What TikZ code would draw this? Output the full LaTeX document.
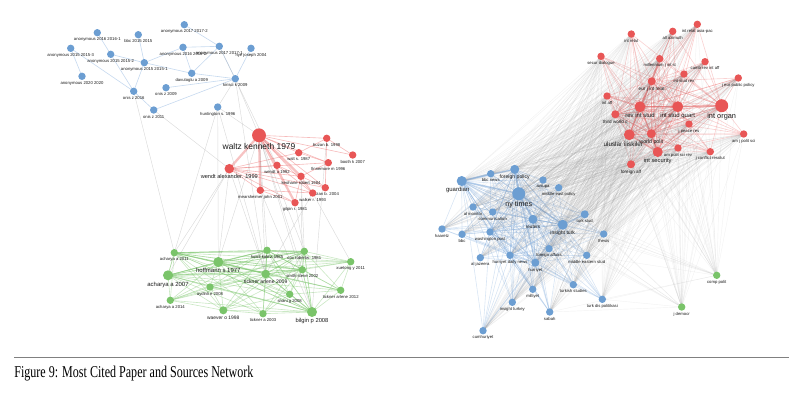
\documentclass[tikz,border=0pt]{standalone}
\usepackage{fontspec}
\setmainfont{Liberation Serif}
\setsansfont{Liberation Sans}
\usepackage{graphicx}
\usepackage{tikz}
\usetikzlibrary{backgrounds}
\definecolor{nodeblue}{RGB}{108,158,210}
\definecolor{nodered}{RGB}{232,86,86}
\definecolor{nodegreen}{RGB}{122,196,106}
\definecolor{edgeblue}{RGB}{130,172,220}
\definecolor{edgered}{RGB}{236,105,105}
\definecolor{edgegreen}{RGB}{125,198,110}
\definecolor{edgegray}{RGB}{150,150,150}
\begin{document}
\begin{tikzpicture}[
  x=0.02cm, y=-0.02cm,
  pap/.style={circle, inner sep=0pt, fill=#1, minimum size=4.2pt},
  lbl/.style={font=\sffamily\fontsize{#1}{#1}\selectfont, inner sep=.2pt, text=black!90},
  lbl/.default=2.4,
  label distance=.2pt,
  link/.style={line width=.35pt, draw=#1, draw opacity=.45},
  haze/.style={line width=.25pt, draw=edgegray, draw opacity=.12},
]
  \useasboundingbox (0,0) rectangle (803,392);

  % Papers: blue cluster
  \node[pap=nodeblue, label={[lbl]below:anonymous 2017 2017-2}] (a172) at (184.3,24.7) {};
  \node[pap=nodeblue, label={[lbl]below:anonymous 2016 2016-1}] (a161) at (97.3,32.7) {};
  \node[pap=nodeblue, label={[lbl]below:bbc 2015 2015}] (bbc15) at (138.3,34.7) {};
  \node[pap=nodeblue, label={[lbl]below:anonymous 2015 2015-3}] (a153) at (70.7,48.3) {};
  \node[pap=nodeblue, label={[lbl]below:anonymous 2015 2015-2}] (a152) at (110.7,54.3) {};
  \node[pap=nodeblue, label={[lbl]below:anonymous 2016 2016-2}] (a162) at (183,47.3) {};
  \node[pap=nodeblue, label={[lbl]below:anonymous 2017 2017-1}] (a171) at (219.3,46.3) {};
  \node[pap=nodeblue, label={[lbl]below:nye joseph 2004}] (nye) at (251,48.3) {};
  \node[pap=nodeblue, label={[lbl]below:anonymous 2015 2015-1}] (a151) at (144.3,62.7) {};
  \node[pap=nodeblue, label={[lbl]below:anonymous 2020 2020}] (a20) at (82,76.3) {};
  \node[pap=nodeblue, label={[lbl]below:davutoglu a 2009}] (davut) at (191.7,73.3) {};
  \node[pap=nodeblue, label={[lbl]below:kirisci k 2009}] (kirisci) at (235.3,78.7) {};
  \node[pap=nodeblue, label={[lbl]below:onis z 2009}] (onis09) at (166,87.7) {};
  \node[pap=nodeblue, label={[lbl]below:onis z 2016}] (onis16) at (133.7,91.3) {};
  \node[pap=nodeblue, label={[lbl]below:huntington s. 1996}] (hunt) at (217.7,107) {};
  \node[pap=nodeblue, label={[lbl]below:onis z 2011}] (onis11) at (153.7,110) {};

  % Papers: red cluster
  \node[pap=nodered, minimum size=7.9pt, label={[lbl=4.8]below:waltz kenneth 1979}] (waltz) at (259,135.3) {};
  \node[pap=nodered, label={[lbl]below:buzan b. 1998}] (buzan98) at (326.7,138.3) {};
  \node[pap=nodered, label={[lbl]below:walt s. 1987}] (walt) at (298.7,152.7) {};
  \node[pap=nodered, label={[lbl]below:booth k 2007}] (booth) at (352.7,155) {};
  \node[pap=nodered, label={[lbl]below:finnemore m 1996}] (finn) at (328.3,162.7) {};
  \node[pap=nodered, label={[lbl]below:wendt a 1992}] (wendt92) at (277,165.3) {};
  \node[pap=nodered, minimum size=5.4pt, label={[lbl=3.2]below:wendt alexander. 1999}] (wendt99) at (229.3,168.7) {};
  \node[pap=nodered, label={[lbl]below:keohane robert 1984}] (keoh) at (301,176.3) {};
  \node[pap=nodered, label={[lbl]below:mearsheimer john 2001}] (mears) at (260.3,190.3) {};
  \node[pap=nodered, label={[lbl]below:buzan b. 2004}] (buzan04) at (325.3,187.7) {};
  \node[pap=nodered, label={[lbl]below:walker r. 1993}] (walker) at (312.7,193) {};
  \node[pap=nodered, label={[lbl]below:gilpin r. 1981}] (gilpin) at (295,202.7) {};

  % Papers: green cluster
  \node[pap=nodegreen, label={[lbl]below:acharya a 2011}] (ach11) at (174.3,252.7) {};
  \node[pap=nodegreen, minimum size=5.7pt, label={[lbl=3.4]below:hoffmann s 1977}] (hoff) at (218.3,262) {};
  \node[pap=nodegreen, minimum size=5.7pt, label={[lbl=3.4]below:acharya a 2007}] (ach07) at (168,275.3) {};
  \node[pap=nodegreen, label={[lbl]below:holsti kalevi 1985}] (holsti) at (267,250.3) {};
  \node[pap=nodegreen, label={[lbl]below:cox robertw. 1981}] (cox) at (304.3,251.3) {};
  \node[pap=nodegreen, minimum size=4.9pt, label={[lbl=2.9]below:tickner arlene 2009}] (tick09) at (265.7,274) {};
  \node[pap=nodegreen, label={[lbl]below:smith steve 2002}] (smith) at (302.3,269.7) {};
  \node[pap=nodegreen, minimum size=4.6pt, label={[lbl=2.8]below:waever o 1998}] (waever) at (223.3,310.3) {};
  \node[pap=nodegreen, label={[lbl]below:aydinli e 2008}] (aydinli) at (210,287) {};
  \node[pap=nodegreen, label={[lbl]below:acharya a 2014}] (ach14) at (170.3,300.3) {};
  \node[pap=nodegreen, label={[lbl]below:tickner a 2003}] (tick03) at (263,313.7) {};
  \node[pap=nodegreen, minimum size=5.7pt, label={[lbl=3.3]below:bilgin p 2008}] (bilgin) at (312,312) {};
  \node[pap=nodegreen, label={[lbl]below:shani g 2008}] (shani) at (289.7,294.3) {};
  \node[pap=nodegreen, label={[lbl]below:tickner arlene 2012}] (tick12) at (340.7,290.3) {};
  \node[pap=nodegreen, label={[lbl]below:xuetong y 2011}] (xue) at (350.7,261.7) {};

  % Sources: red cluster
  \node[pap=nodered, label={[lbl]below:int relat asia-pac}] (asiapac) at (697.3,24.3) {};
  \node[pap=nodered, label={[lbl]below:int relat}] (intrelat) at (631.3,34) {};
  \node[pap=nodered, label={[lbl]below:all azimuth}] (azimuth) at (672.7,31.3) {};
  \node[pap=nodered, label={[lbl]below:secur dialogue}] (secur) at (601,56.3) {};
  \node[pap=nodered, label={[lbl]below:millennium j int st}] (millen) at (659.7,58.7) {};
  \node[pap=nodered, label={[lbl]below:camb rev int aff}] (camb) at (705,61.7) {};
  \node[pap=nodered, label={[lbl]below:int stud rev}] (isr) at (684,74) {};
  \node[pap=nodered, minimum size=4.6pt, label={[lbl=2.7]below:eur j int relat}] (eurj) at (651.7,81.3) {};
  \node[pap=nodered, label={[lbl]below:j eur public policy}] (jeupp) at (738.3,78) {};
  \node[pap=nodered, label={[lbl]below:int aff}] (intaff) at (607,96) {};
  \node[pap=nodered, minimum size=4.6pt, label={[lbl=2.6]below:third world q}] (twq) at (615.3,114.3) {};
  \node[pap=nodered, minimum size=6.2pt, label={[lbl=3.4]below:rev int stud}] (revint) at (640,106.7) {};
  \node[pap=nodered, minimum size=6.2pt, label={[lbl=3.4]below:int stud quart}] (isq) at (677.7,106.7) {};
  \node[pap=nodered, minimum size=7.4pt, label={[lbl=4.2]below:int organ}] (intorgan) at (721.7,105.7) {};
  \node[pap=nodered, label={[lbl]below:j peace res}] (jpr) at (689,124) {};
  \node[pap=nodered, label={[lbl]below:am j polit sci}] (ajps) at (743.7,134) {};
  \node[pap=nodered, minimum size=6.2pt, label={[lbl=3.6, xshift=-1.2mm]below:uluslar iliskiler}] (uluslar) at (629.3,134.7) {};
  \node[pap=nodered, minimum size=5.1pt, label={[lbl=3]below:world polit}] (wpolit) at (651.3,133.7) {};
  \node[pap=nodered, minimum size=5.7pt, label={[lbl=3.3]below:int security}] (intsec) at (657.7,152) {};
  \node[pap=nodered, label={[lbl]below:am polit sci rev}] (apsr) at (678,148) {};
  \node[pap=nodered, label={[lbl]below:j conflict resolut}] (jcr) at (710.3,151.7) {};
  \node[pap=nodered, minimum size=4.6pt, label={[lbl=2.6]below:foreign aff}] (foraff) at (631,164.3) {};

  % Sources: blue cluster
  \node[pap=nodeblue, minimum size=5.7pt, label={[lbl=3.4, xshift=-.8mm]below:guardian}] (guardian) at (461.7,181) {};
  \node[pap=nodeblue, label={[lbl]below:bbc news}] (bbcnews) at (490.7,173.7) {};
  \node[pap=nodeblue, minimum size=5.1pt, label={[lbl=2.9]below:foreign policy}] (fpol) at (514.7,169.3) {};
  \node[pap=nodeblue, minimum size=7.4pt, label={[lbl=4.1]below:ny times}] (nyt) at (518.7,193.7) {};
  \node[pap=nodeblue, label={[lbl]below:avrupa}] (avrupa) at (543,180) {};
  \node[pap=nodeblue, label={[lbl]below:middle east policy}] (mep) at (558.7,187.7) {};
  \node[pap=nodeblue, label={[lbl]below:al monitor}] (almon) at (473,207) {};
  \node[pap=nodeblue, label={[lbl]below:communication}] (comm) at (492.7,212) {};
  \node[pap=nodeblue, minimum size=5.1pt, label={[lbl=2.6]below:reuters}] (reuters) at (533,219.3) {};
  \node[pap=nodeblue, minimum size=5.7pt, label={[lbl=2.9]below:insight turk}] (insturk) at (562.7,224.7) {};
  \node[pap=nodeblue, minimum size=4.6pt, label={[lbl]below:turk stud}] (turkstud) at (584.7,214.3) {};
  \node[pap=nodeblue, label={[lbl]below:haaretz}] (haaretz) at (442,229) {};
  \node[pap=nodeblue, label={[lbl]below:bbc}] (bbc) at (462,234.3) {};
  \node[pap=nodeblue, label={[lbl]below:washington post}] (wapo) at (490,232) {};
  \node[pap=nodeblue, label={[lbl]below:thesis}] (thesis) at (603.7,234) {};
  \node[pap=nodeblue, label={[lbl]below:al jazeera}] (aljaz) at (480.3,257.7) {};
  \node[pap=nodeblue, label={[lbl]below:hurriyet daily news}] (hdn) at (510,255.3) {};
  \node[pap=nodeblue, label={[lbl]below:foreign affairs}] (foraffs) at (549,248.7) {};
  \node[pap=nodeblue, minimum size=4.6pt, label={[lbl]below:hurriyet}] (hurriyet) at (535.3,262.7) {};
  \node[pap=nodeblue, label={[lbl]below:middle eastern stud}] (mes) at (586.7,255.3) {};
  \node[pap=nodeblue, label={[lbl]below:milliyet}] (milliyet) at (532.7,289.3) {};
  \node[pap=nodeblue, label={[lbl]below:turkish studies}] (turkstudies) at (573.3,284.7) {};
  \node[pap=nodeblue, label={[lbl]below:turk dis politikasi}] (tdp) at (602.3,299.3) {};
  \node[pap=nodeblue, label={[lbl]below:insight turkey}] (insturkey) at (512.3,302.3) {};
  \node[pap=nodeblue, label={[lbl]below:sabah}] (sabah) at (549.7,312) {};
  \node[pap=nodeblue, label={[lbl]below:cumhuriyet}] (cumh) at (483,330.7) {};

  % Sources: green cluster
  \node[pap=nodegreen, label={[lbl]below:comp polit}] (comppolit) at (716.7,275.3) {};
  \node[pap=nodegreen, label={[lbl]below:j democr}] (jdemocr) at (681.7,307) {};

  \begin{scope}[on background layer]
    % paper links
    \foreach \a/\b in {a172/a171, a162/a171, a162/a151, a162/davut, a171/davut, a171/kirisci,
                       nye/kirisci, a152/a151, a161/a152, bbc15/a151, a153/a20, a153/onis16,
                       a152/onis16, a151/onis16, a151/davut, davut/kirisci, onis09/kirisci,
                       onis11/kirisci, onis16/onis11}
      \draw[link=edgeblue] (\a.center) -- (\b.center);

    \foreach \b in {wendt99, keoh, mears, gilpin}
      \draw[link=edgered, line width=1.3pt, draw opacity=.4] (waltz.center) -- (\b.center);
    \foreach \a/\b in {waltz/buzan98, waltz/walt, waltz/finn, waltz/wendt92, waltz/buzan04,
                       waltz/walker, waltz/booth, wendt99/keoh, wendt99/wendt92, wendt99/finn,
                       wendt99/buzan04, wendt99/walker, wendt99/mears, wendt99/gilpin,
                       wendt99/walt, buzan98/walt, buzan98/booth, walt/finn, keoh/buzan04,
                       keoh/walker, keoh/gilpin, mears/walker, mears/gilpin, wendt92/keoh,
                       wendt92/walker, finn/keoh, buzan98/buzan04}
      \draw[link=edgered] (\a.center) -- (\b.center);

    \foreach \a in {hoff, ach07, tick09, bilgin, ach11, smith, holsti, cox}
      \foreach \b in {ach11, hoff, ach07, holsti, cox, tick09, smith, waever, aydinli,
                      ach14, tick03, bilgin, shani, tick12, xue}
        \draw[link=edgegreen, draw opacity=.4] (\a.center) -- (\b.center);
    \foreach \a/\b in {waever/aydinli, waever/ach14, waever/tick03, waever/shani,
                       aydinli/ach14, shani/tick12, tick12/xue, tick03/shani}
      \draw[link=edgegreen, draw opacity=.4] (\a.center) -- (\b.center);

    \foreach \a/\b in {hunt/waltz, hunt/hoff, hunt/ach11, hunt/tick09, onis11/wendt99,
                       kirisci/waltz, kirisci/tick09, a171/wendt92, waltz/holsti, waltz/cox,
                       waltz/tick09, waltz/hoff, waltz/bilgin, waltz/smith, wendt99/ach11,
                       wendt99/hoff, wendt99/tick09, wendt99/ach07, mears/bilgin, keoh/cox,
                       keoh/smith, walker/tick09, gilpin/cox, walker/xue, buzan98/bilgin,
                       onis16/ach11, kirisci/hunt}
      \draw[haze, draw opacity=.35] (\a.center) -- (\b.center);

    % source links
    \foreach \a in {intorgan, revint, isq, uluslar, intsec, wpolit, eurj, twq}
      \foreach \b in {asiapac, intrelat, azimuth, secur, millen, camb, isr, eurj, jeupp,
                      intaff, twq, revint, isq, intorgan, jpr, ajps, uluslar, wpolit,
                      intsec, apsr, jcr, foraff}
        \draw[link=edgered, draw opacity=.3] (\a.center) -- (\b.center);
    \foreach \a/\b in {revint/eurj, revint/isq, isq/intorgan, revint/uluslar, uluslar/intsec,
                       wpolit/intsec, revint/intsec, eurj/millen, isq/wpolit, revint/intaff}
      \draw[link=edgered, line width=1pt, draw opacity=.35] (\a.center) -- (\b.center);

    \foreach \a in {nyt, guardian, fpol, reuters, insturk, hdn, wapo, hurriyet}
      \foreach \b in {guardian, bbcnews, fpol, nyt, avrupa, mep, almon, comm, reuters,
                      insturk, turkstud, haaretz, bbc, wapo, thesis, aljaz, hdn, foraffs,
                      hurriyet, mes, milliyet, turkstudies, tdp, insturkey, sabah, cumh}
        \draw[link=edgeblue, draw opacity=.3] (\a.center) -- (\b.center);
    \foreach \a/\b in {guardian/nyt, nyt/fpol, nyt/reuters, nyt/insturk, guardian/bbcnews,
                       insturk/turkstud, guardian/fpol}
      \draw[link=edgeblue, line width=1pt, draw opacity=.4] (\a.center) -- (\b.center);

    \foreach \a in {asiapac, intrelat, azimuth, secur, millen, camb, isr, eurj, jeupp,
                    intaff, twq, revint, isq, intorgan, jpr, ajps, uluslar, wpolit,
                    intsec, apsr, jcr, foraff}
      \foreach \b in {guardian, bbcnews, fpol, nyt, avrupa, mep, almon, comm, reuters,
                      insturk, turkstud, haaretz, bbc, wapo, thesis, aljaz, hdn, foraffs,
                      hurriyet, mes, milliyet, turkstudies, tdp, insturkey, sabah, cumh,
                      comppolit, jdemocr}
        \draw[haze] (\a.center) -- (\b.center);
    \foreach \a in {nyt, guardian, insturk, reuters, turkstud, thesis, mes, tdp, sabah}
      \foreach \b in {comppolit, jdemocr}
        \draw[haze] (\a.center) -- (\b.center);
  \end{scope}

  % Caption
  \draw[gray, line width=.9pt] (14,357.7) -- (789,357.7);
  \node[anchor=base west, inner sep=0pt] (caption) at (14,377)
    {\scalebox{0.73}[1]{\fontsize{9.4}{11}\selectfont Figure 9: Most Cited Paper and Sources Network}};
\end{tikzpicture}
\end{document}
